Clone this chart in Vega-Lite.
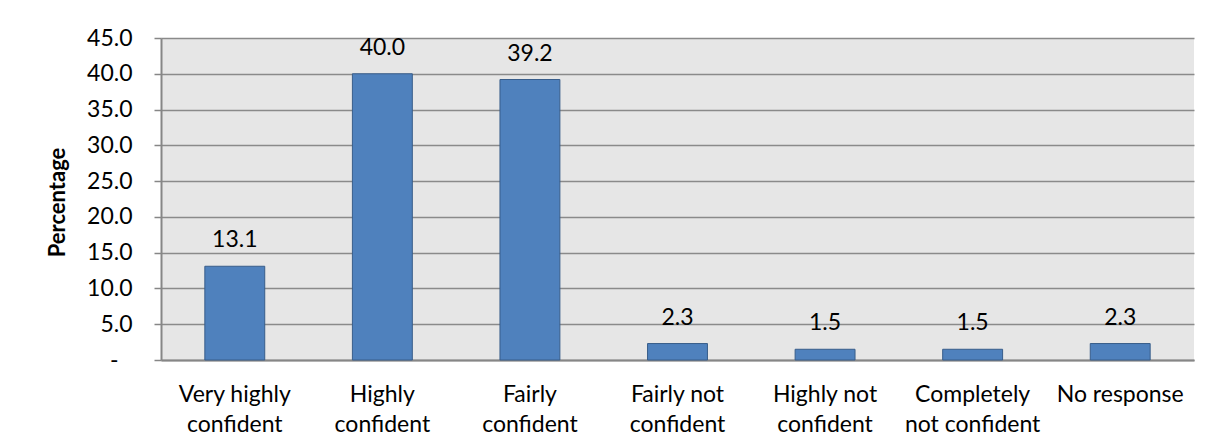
{
  "$schema": "https://vega.github.io/schema/vega-lite/v6.json",
  "autosize": {"type": "none"},
  "width": 1033,
  "height": 322,
  "padding": {"left": 161, "top": 38, "right": 24, "bottom": 88},
  "background": "white",
  "config": {
    "view": {"stroke": null, "fill": "#E6E6E6"},
    "font": "Lato"
  },
  "data": {
    "values": [
      {"cat": "Very highly|confident", "pct": 13.1},
      {"cat": "Highly|confident", "pct": 40.0},
      {"cat": "Fairly|confident", "pct": 39.2},
      {"cat": "Fairly not|confident", "pct": 2.3},
      {"cat": "Highly not|confident", "pct": 1.5},
      {"cat": "Completely|not confident", "pct": 1.5},
      {"cat": "No response", "pct": 2.3}
    ]
  },
  "encoding": {
    "x": {
      "field": "cat",
      "type": "nominal",
      "sort": null,
      "scale": {"paddingInner": 0.594, "paddingOuter": 0.297},
      "axis": {
        "title": null,
        "labelAngle": 0,
        "labelExpr": "split(datum.value, '|')",
        "labelFont": "Lato",
        "labelFontSize": 23,
        "labelColor": "#000000",
        "labelLineHeight": 30,
        "labelPadding": 41,
        "labelBaseline": "alphabetic",
        "ticks": false,
        "domainColor": "#868686",
        "domainWidth": 2,
        "grid": false
      }
    },
    "y": {
      "field": "pct",
      "type": "quantitative",
      "scale": {"domain": [0, 45], "nice": false},
      "axis": {
        "title": "Percentage",
        "titleFont": "Lato",
        "titleFontSize": 22,
        "titleFontWeight": "bold",
        "titleColor": "#000000",
        "titleAngle": -90,
        "titleX": -104,
        "titleY": 164,
        "titleAlign": "center",
        "titleBaseline": "middle",
        "values": [0, 5, 10, 15, 20, 25, 30, 35, 40, 45],
        "labelExpr": "datum.value == 0 ? '-' : format(datum.value, '.1f')",
        "labelFont": "Lato",
        "labelFontSize": 23,
        "labelColor": "#000000",
        "labelPadding": {"condition": {"test": "datum.value == 0", "value": 36}, "value": 22},
        "tickSize": 7,
        "tickColor": "#868686",
        "tickWidth": 1.5,
        "domainColor": "#868686",
        "domainWidth": 2,
        "grid": true,
        "gridColor": "#8A8A8A",
        "gridWidth": 1.5
      }
    }
  },
  "layer": [
    {
      "mark": {"type": "bar", "fill": "#4F81BD", "stroke": "#385D8A", "strokeWidth": 1}
    },
    {
      "mark": {"type": "text", "font": "Lato", "fontSize": 23, "color": "#000000", "baseline": "alphabetic", "dy": -19},
      "encoding": {
        "text": {"field": "pct", "type": "quantitative", "format": ".1f"}
      }
    }
  ]
}
